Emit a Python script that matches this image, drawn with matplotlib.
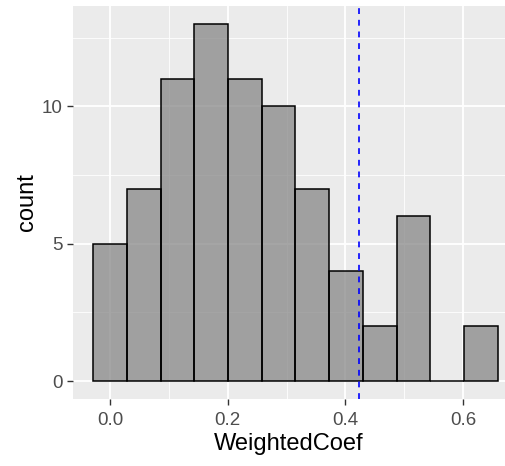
import numpy as np
import matplotlib
matplotlib.use('Agg')
import matplotlib.pyplot as plt
from matplotlib.ticker import MultipleLocator

# histogram data
counts = [5, 7, 11, 13, 11, 10, 7, 4, 2, 6, 0, 2]
bin_start = -0.0287
bin_width = 0.0573
cutoff = 0.4235  # dashed reference line
x_ticks = [0.0, 0.2, 0.4, 0.6]
x_labels = ['0.0', '0.2', '0.4', '0.6']
y_ticks = [0, 5, 10]

plt.rcParams['font.family'] = ['Liberation Sans', 'DejaVu Sans']

edges = bin_start + bin_width * np.arange(len(counts) + 1)

fig = plt.figure(figsize=(5.05, 4.66), dpi=100)
ax = fig.add_axes([73 / 505, 1 - 399 / 466, 1 - 73 / 505, (399 - 6) / 466])
ax.set_facecolor('#EBEBEB')

ax.bar(edges[:-1], counts, width=bin_width, align='edge',
       color='grey', alpha=0.7, edgecolor='none', zorder=2)
ax.bar(edges[:-1], counts, width=bin_width, align='edge',
       facecolor='none', edgecolor='black', linewidth=1.1, zorder=3)
ax.axvline(cutoff, color='blue', linestyle=(0, (3.5, 3.5)), linewidth=1.2, zorder=4)

span = edges[-1] - edges[0]
ax.set_xlim(edges[0] - 0.05 * span, (505 - 110.5) / 587.5)
ymax = max(counts)
ax.set_ylim(-0.05 * ymax, ymax * 1.05)

ax.set_xticks(x_ticks)
ax.set_xticklabels(x_labels)
ax.set_yticks(y_ticks)
ax.xaxis.set_minor_locator(MultipleLocator(0.1))
ax.yaxis.set_minor_locator(MultipleLocator(2.5))
ax.grid(which='major', color='white', linewidth=1.3, zorder=0)
ax.grid(which='minor', color='white', linewidth=0.6, zorder=0)
ax.set_axisbelow(True)
for s in ax.spines.values():
    s.set_visible(False)

ax.tick_params(which='major', length=4.5, width=1.0, color='#333333',
               labelsize=13.5, labelcolor='#4D4D4D')
ax.tick_params(axis='x', pad=5)
ax.tick_params(axis='y', pad=3)
ax.tick_params(which='minor', length=0)

ax.set_xlabel('WeightedCoef', fontsize=17, color='black', labelpad=3)
ax.set_ylabel('count', fontsize=17, color='black', labelpad=3)

fig.savefig('out.png', dpi=100)
